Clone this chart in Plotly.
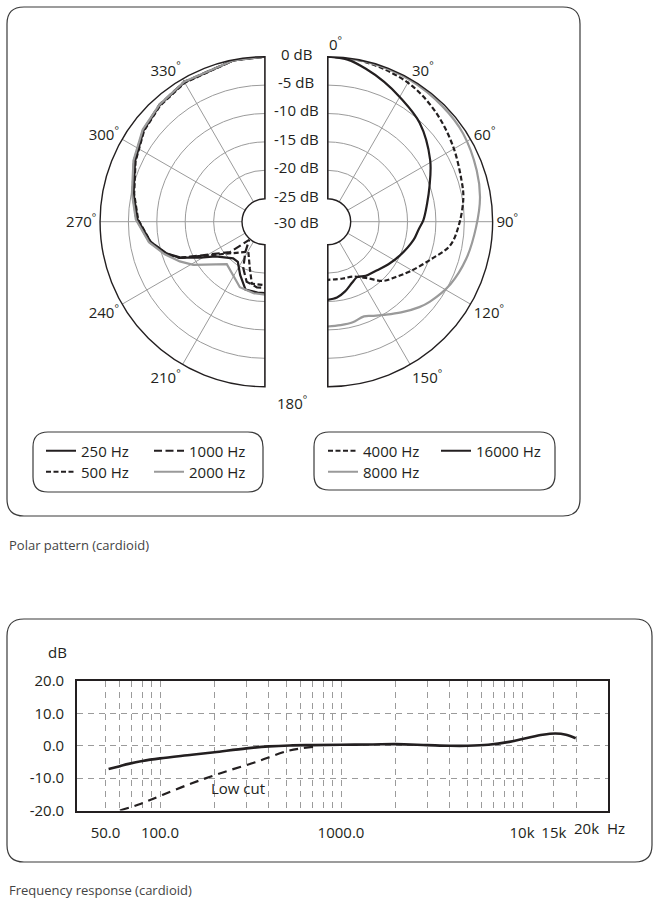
import math
import plotly.graph_objects as go

W, H = 662, 911

# ---- polar pattern: angle (deg) and level (dB) ----
# left half: 250 / 500 / 1000 / 2000 Hz
theta_250 = [360, 349, 330, 318, 307, 295, 282, 271, 260, 252, 247, 241, 235, 221, 214, 205, 196, 186, 180]
db_250 = [0, -0.1, -0.7, -1.4, -2.3, -3.8, -5.4, -6.6, -8.6, -10.9, -12.9, -16.0, -18.4, -20.5, -20.5, -18.7, -16.6, -16.5, -16.5]

theta_500 = [360, 349, 330, 318, 307, 295, 282, 271, 260, 252, 247, 234, 209, 198, 192, 182, 180]
db_500 = [0, -0.1, -0.8, -1.5, -2.4, -3.9, -5.5, -6.7, -8.6, -10.8, -12.8, -19.3, -23.0, -20.4, -17.9, -17.9, -17.9]

theta_1000 = [360, 349, 330, 318, 307, 295, 282, 271, 260, 252, 247, 229, 221, 213, 205, 197, 187, 180]
db_1000 = [0, -0.1, -0.6, -1.3, -2.2, -3.6, -5.2, -6.4, -8.4, -10.7, -12.7, -20.9, -24.8, -22.7, -20.0, -18.0, -17.4, -17.4]

theta_2000 = [360, 349, 330, 318, 307, 295, 282, 271, 260, 252, 245, 239, 222, 201, 189, 180]
db_2000 = [0, -0.1, -0.6, -1.3, -2.1, -3.5, -5.1, -6.3, -8.3, -10.5, -12.5, -14.3, -19.0, -16.7, -16.3, -16.2]

# right half: 4000 / 8000 / 16000 Hz
theta_4000 = [0, 10, 20, 32, 45, 59, 73, 80, 91, 101, 110, 121, 129, 137, 145, 155, 165, 180]
db_4000 = [0, -0.1, -0.4, -0.9, -2.0, -3.3, -4.4, -4.8, -5.9, -7.1, -9.7, -12.1, -13.6, -14.8, -16.9, -18.4, -18.7, -18.8]

theta_8000 = [0, 15, 30, 45, 57, 71, 81, 92, 105, 117, 128, 133, 141, 149, 154, 159, 166, 173, 180]
db_8000 = [0, -0.1, -0.2, -0.4, -0.6, -1.3, -1.9, -2.9, -3.8, -4.8, -6.2, -7.0, -8.5, -9.9, -10.6, -11.2, -10.8, -10.7, -10.6]

theta_16000 = [0, 7, 14, 22, 30, 43, 59, 71, 80, 89, 95, 102, 115, 125, 135, 145, 152, 158, 166, 173, 180]
db_16000 = [0, -0.3, -1.3, -2.5, -3.7, -5.3, -8.0, -10.1, -11.3, -12.2, -13.0, -13.6, -15.0, -16.0, -16.9, -17.4, -18.0, -17.5, -16.4, -15.6, -15.3]

radial_ticks = [0, -5, -10, -15, -20, -25, -30]
left_angles = [210, 240, 270, 300, 330]
right_angles = [0, 30, 60, 90, 120, 150]

# ---- frequency response ----
resp_hz = [52, 60, 67, 80, 100, 150, 200, 300, 400, 520, 700, 1000, 1500, 2000, 3000, 4000, 5000, 6500, 8500, 10500, 13000, 15300, 17500, 19800]
resp_db = [-7.2, -6.3, -5.6, -4.7, -3.9, -2.8, -2.0, -0.8, -0.2, 0.1, 0.2, 0.3, 0.4, 0.5, 0.2, 0.0, 0.0, 0.3, 1.2, 2.3, 3.4, 3.8, 3.4, 2.3]
lowcut_hz = [60, 78.5, 103, 150, 218, 336, 516, 713]
lowcut_db = [-20.0, -17.9, -15.2, -11.6, -8.4, -5.1, -1.5, -0.3]

freq_ticks = [50, 100, 1000, 10000, 15000, 20000]
freq_labels = ["50.0", "100.0", "1000.0", "10k", "15k", ""]
last_freq_label = "20k"
freq_minor = [60, 70, 80, 90, 200, 300, 400, 500, 600, 700, 800, 900,
              2000, 3000, 4000, 5000, 6000, 7000, 8000, 9000]
db_ticks = [-20, -10, 0, 10, 20]

INK = "#231f20"
GRID = "#9b9b9b"
GREY = "#9a9a9a"
FONT = "Open Sans"
SHORT_DASH = "5px,2.5px"
LONG_DASH = "8px,3.5px"
NBSP = "\u00a0"

# geometry of the two half discs (pixels)
CY = 221.7
R_OUT = 165
R_HOLE = 23
LEFT_CX = 265
RIGHT_CX = 327.7
R_MIN, R_MAX = -25, 0


def fx(x):
    return x / W


def fy(y):
    return 1 - y / H


fig = go.Figure()

polar_series = [
    ("250 Hz", theta_250, db_250, INK, "solid", "polar", "legend"),
    ("500 Hz", theta_500, db_500, INK, SHORT_DASH, "polar", "legend2"),
    ("1000 Hz", theta_1000, db_1000, INK, LONG_DASH, "polar", "legend3"),
    ("2000 Hz", theta_2000, db_2000, GREY, "solid", "polar", "legend4"),
    ("4000 Hz", theta_4000, db_4000, INK, SHORT_DASH, "polar2", "legend5"),
    ("8000 Hz", theta_8000, db_8000, GREY, "solid", "polar2", "legend6"),
    ("16000 Hz", theta_16000, db_16000, INK, "solid", "polar2", "legend7"),
]
for name, th, r, col, dash, sp, lg in polar_series:
    shape = "spline" if sp == "polar2" else "linear"
    fig.add_trace(go.Scatterpolar(theta=th, r=r, mode="lines", name=name,
                                  line=dict(color=col, width=2.2, dash=dash, shape=shape),
                                  subplot=sp, legend=lg))

# straight edges of the half discs
for sp in ["polar", "polar2"]:
    fig.add_trace(go.Scatterpolar(theta=[0, 0, None, 180, 180], r=[R_MIN, R_MAX, None, R_MIN, R_MAX],
                                  mode="lines", line=dict(color=INK, width=1.2),
                                  subplot=sp, showlegend=False, hoverinfo="skip"))

fig.add_trace(go.Scatter(x=resp_hz, y=resp_db, mode="lines", line=dict(color=INK, width=2.6, shape="spline"),
                         showlegend=False))
fig.add_trace(go.Scatter(x=lowcut_hz, y=lowcut_db, mode="lines",
                         line=dict(color=INK, width=2.2, dash="9px,6px", shape="spline"),
                         showlegend=False))


def angle_text(a):
    # the 0 label sits just right of the top edge in the original
    pad = NBSP * 4 if a == 0 else ""
    return f"{pad}{a}<sup>°</sup>"


def polar_layout(x0, sector, angles):
    return dict(
        domain=dict(x=[fx(x0), fx(x0 + R_OUT)], y=[fy(CY + R_OUT), fy(CY - R_OUT)]),
        sector=sector,
        hole=R_HOLE / R_OUT,
        bgcolor="white",
        radialaxis=dict(range=[R_MIN, R_MAX], tickvals=radial_ticks[:-1], showticklabels=False,
                        ticks="", showline=False, gridcolor=GRID, gridwidth=1),
        angularaxis=dict(rotation=90, direction="clockwise", tickvals=angles,
                         ticktext=[angle_text(a) for a in angles], ticks="",
                         showline=True, linecolor=INK, linewidth=1.4, gridcolor=GRID, gridwidth=1,
                         tickfont=dict(size=15, color=INK, family=FONT)),
    )


def legend_at(x, y):
    return dict(x=fx(x), y=fy(y), xanchor="left", yanchor="middle", bgcolor="rgba(0,0,0,0)",
                borderwidth=0, font=dict(family=FONT, size=15, color=INK))


def rounded(x0, y0, x1, y1, rad):
    pts = [
        ("M", [(x0 + rad, y0)]), ("L", [(x1 - rad, y0)]), ("Q", [(x1, y0), (x1, y0 + rad)]),
        ("L", [(x1, y1 - rad)]), ("Q", [(x1, y1), (x1 - rad, y1)]), ("L", [(x0 + rad, y1)]),
        ("Q", [(x0, y1), (x0, y1 - rad)]), ("L", [(x0, y0 + rad)]), ("Q", [(x0, y0), (x0 + rad, y0)]),
    ]
    path = " ".join(c + " " + " ".join(f"{fx(a):.5f},{fy(b):.5f}" for a, b in p) for c, p in pts) + " Z"
    return dict(type="path", xref="paper", yref="paper", path=path,
                line=dict(color="#3a3a3a", width=1.2))


shapes = [rounded(7, 7, 580, 516, 17), rounded(33, 432, 263, 492, 15),
          rounded(314, 432, 555, 490, 15), rounded(7, 619, 652, 862, 17)]


def label(text, x, y, size=15, color=INK, xanchor="center"):
    return dict(text=text, x=fx(x), y=fy(y), xref="paper", yref="paper", showarrow=False,
                xanchor=xanchor, yanchor="middle", font=dict(family=FONT, size=size, color=color))


annotations = []
for d in radial_ticks:
    if d == -30:
        y = CY
    else:
        y = CY - (R_HOLE + (d - R_MIN) / (R_MAX - R_MIN) * (R_OUT - R_HOLE)) - 3
    annotations.append(label(f"{d} dB", (LEFT_CX + RIGHT_CX) / 2, y))
annotations += [
    label("180<sup>°</sup>", 292, 402),
    label("Polar pattern (cardioid)", 7, 545, size=13, color="#444", xanchor="left"),
    label("Frequency response (cardioid)", 7, 890, size=13, color="#444", xanchor="left"),
    label("dB", 57, 652),
    label("Hz", 616, 828),
    dict(text=last_freq_label, x=math.log10(freq_ticks[-1]), xshift=10, y=fy(828), xref="x", yref="paper",
         showarrow=False, xanchor="center", yanchor="middle", font=dict(family=FONT, size=15, color=INK)),
    dict(text="Low cut", x=2.43, y=-13, xref="x", yref="y", showarrow=False,
         font=dict(family=FONT, size=15, color=INK)),
]

fig.update_layout(
    width=W, height=H, margin=dict(l=0, r=0, t=0, b=0, autoexpand=False),
    paper_bgcolor="white", plot_bgcolor="white",
    font=dict(family=FONT, color=INK),
    polar=polar_layout(LEFT_CX - R_OUT, [-270, -90], left_angles),
    polar2=polar_layout(RIGHT_CX, [-90, 90], right_angles),
    legend=legend_at(41, 451), legend2=legend_at(41, 472),
    legend3=legend_at(149, 451), legend4=legend_at(149, 472),
    legend5=legend_at(323, 451), legend6=legend_at(323, 472),
    legend7=legend_at(436, 451),
    xaxis=dict(type="log", domain=[fx(77), fx(608)], range=[1.5414, 4.4751],
               tickvals=freq_ticks, ticktext=freq_labels, tickangle=0, ticks="outside", ticklen=8,
               tickcolor="rgba(0,0,0,0)", tickfont=dict(size=15, color=INK),
               showgrid=True, gridcolor=GRID, griddash="6px,5px", gridwidth=1,
               minor=dict(tickvals=freq_minor, showgrid=True, gridcolor=GRID, griddash="6px,5px", gridwidth=1),
               showline=True, mirror=True, linecolor=INK, linewidth=1.6, zeroline=False, automargin=False),
    yaxis=dict(domain=[fy(810.5), fy(681)], range=[-20, 20], tickvals=db_ticks,
               ticktext=[f"{v:.1f}" for v in db_ticks], ticks="outside", ticklen=8,
               tickcolor="rgba(0,0,0,0)", tickfont=dict(size=15, color=INK),
               showgrid=True, gridcolor=GRID, griddash="6px,5px", gridwidth=1,
               showline=True, mirror=True, linecolor=INK, linewidth=1.6, zeroline=False, automargin=False),
    shapes=shapes,
    annotations=annotations,
)

# page body margin off so the 662x911 figure fills the window exactly
fig.write_html("out.html", config={"displayModeBar": False},
               post_script="document.body.style.margin='0px';")
